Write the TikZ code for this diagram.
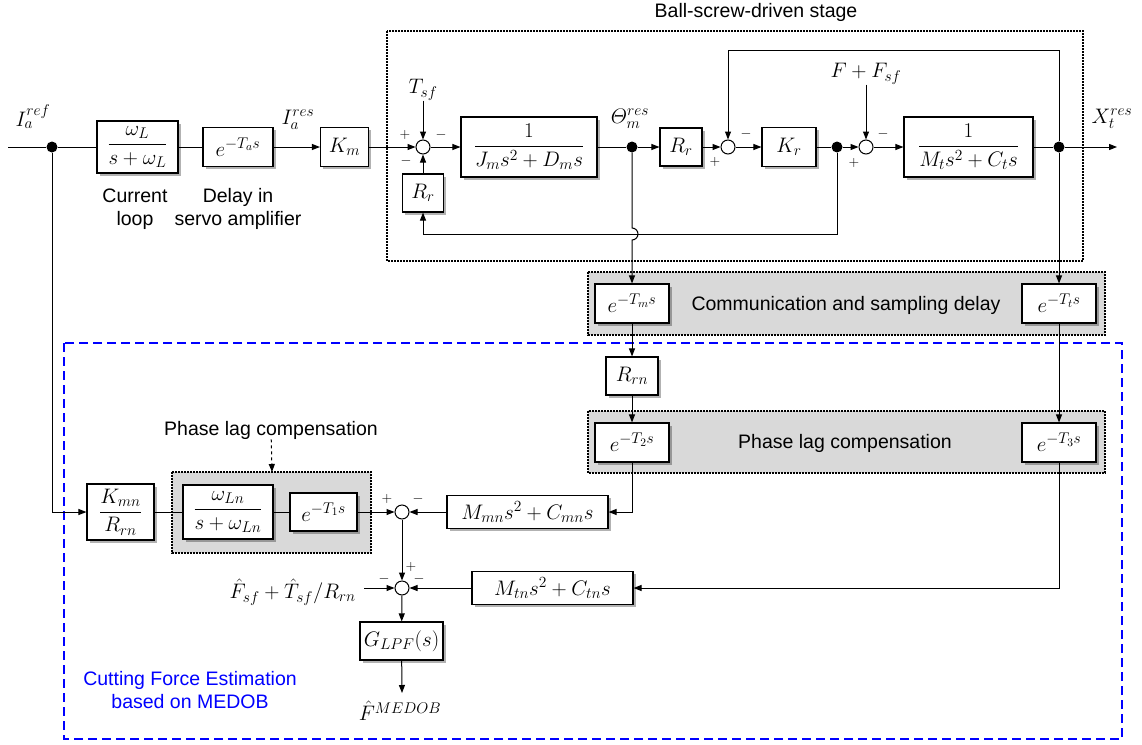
\RequirePackage{fix-cm}
\documentclass[tikz,border=0pt]{standalone}
\usepackage{amsmath}
\usepackage[no-math]{fontspec}
\newfontfamily\labelfont{Liberation Sans}
\usetikzlibrary{arrows.meta,shadows,calc}
\definecolor{panel}{gray}{0.85}
\definecolor{mblue}{RGB}{0,0,255}
\DeclareMathSizes{21}{21}{15.5}{11.5}

\begin{document}
\begin{tikzpicture}[x=1pt,y=-1pt,
  mathtxt/.style={font=\fontsize{21}{25}\selectfont, inner sep=0pt},
  txt/.style={font=\labelfont\fontsize{19.5}{23}\selectfont, inner sep=0pt, align=center},
  blk/.style={draw, line width=1.1pt, fill=white, inner sep=0pt,
    font=\fontsize{21}{25}\selectfont,
    drop shadow={shadow xshift=2.5pt, shadow yshift=-2.5pt, opacity=0.3, fill=black}},
  sumc/.style={circle, draw, line width=1pt, fill=white, minimum size=14pt, inner sep=0pt},
  junc/.style={circle, fill=black, minimum size=11pt, inner sep=0pt},
  sig/.style={font=\fontsize{14}{14}\selectfont, inner sep=0pt},
  conn/.style={line width=1pt},
  arr/.style={line width=1pt, -{Triangle[length=8pt,width=6pt]}},
  dotbox/.style={line width=1.6pt, dash pattern=on 1.6pt off 1.4pt},
  bluebox/.style={draw=mblue, line width=2pt, dash pattern=on 9pt off 5pt},
]
\useasboundingbox (0,0) rectangle (1142,744);

% ---------- frames ----------
\draw[dotbox] (387,31) rectangle (1083,261);
\node[txt] (stage) at (756,12) {Ball-screw-driven stage};

\draw[dotbox, fill=panel] (588,272) rectangle (1105,335);
\node[txt] (commtxt) at (846,305) {Communication and sampling delay};

\draw[bluebox] (64,343) rectangle (1122,739);

\draw[dotbox, fill=panel] (588,411) rectangle (1105,473);
\node[txt] (lagtxt) at (845,443) {Phase lag compensation};

\draw[dotbox, fill=panel] (172,472) rectangle (371,553);
\coordinate (lagtop) at (272,472);
\node[txt] (lagtxt2) at (271,430) {Phase lag compensation};

\node[txt, text=mblue] (medob) at (190,690) {Cutting Force Estimation\\based on MEDOB};

% ---------- top row: current loop and ball-screw stage ----------
\coordinate (iin) at (8,147);
\node[junc] (d0) at (52,147) {};
\node[mathtxt] (iref) at (33,117) {$I_a^{ref}$};
\node[blk, minimum width=81pt, minimum height=52pt] (cl) at (137.5,147) {$\dfrac{\omega_L}{s+\omega_L}$};
\node[blk, minimum width=70pt, minimum height=39pt] (da) at (238,147) {$e^{-T_a s}$};
\node[mathtxt] (ires) at (298,120) {$I_a^{res}$};
\node[blk, minimum width=48pt, minimum height=39pt] (Km) at (344.5,147) {$K_m$};
\node[txt] (cltxt) at (135,209) {Current\\loop};
\node[txt] (datxt) at (238,209) {Delay in\\servo amplifier};

\node[sumc] (s1) at (423,147) {};
\node[mathtxt] (tsf) at (423,90) {$T_{sf}$};
\node[blk, minimum width=136pt, minimum height=60pt] (Jm) at (529,147) {$\dfrac{1}{J_m s^2+D_m s}$};
\node[blk, minimum width=41pt, minimum height=38pt] (Rr1) at (423,193) {$R_r$};
\node[junc] (d1) at (632,147) {};
\node[mathtxt] (thres) at (630,119) {$\varTheta_m^{res}$};
\node[blk, minimum width=42pt, minimum height=38pt] (Rr2) at (681,147) {$R_r$};
\node[sumc] (s2) at (728,147) {};
\node[blk, minimum width=54pt, minimum height=39pt] (Kr) at (789,147) {$K_r$};
\node[junc] (d2) at (837,147) {};
\node[sumc] (s3) at (866,147) {};
\node[mathtxt] (ff) at (866,74) {$F+F_{sf}$};
\node[blk, minimum width=129pt, minimum height=60pt] (Mt) at (968.5,147) {$\dfrac{1}{M_t s^2+C_t s}$};
\node[junc] (d3) at (1059,147) {};
\coordinate (xout) at (1117,147);
\node[mathtxt] (xres) at (1112,119) {$X_t^{res}$};

% signs
\node[sig] (s1a) at (405,135) {$+$};
\node[sig] (s1b) at (441,135) {$-$};
\node[sig] (s1c) at (406,161) {$-$};
\node[sig] (s2a) at (746,134) {$-$};
\node[sig] (s2b) at (715,162) {$+$};
\node[sig] (s3a) at (883,134) {$-$};
\node[sig] (s3b) at (854,163) {$+$};

% ---------- delay blocks ----------
\node[blk, minimum width=74pt, minimum height=39pt] (Tm) at (632,303.5) {$e^{-T_m s}$};
\node[blk, minimum width=74pt, minimum height=39pt] (Tt) at (1059,303.5) {$e^{-T_t s}$};
\node[blk, minimum width=52pt, minimum height=38pt] (Rrn) at (632,376) {$R_{rn}$};
\node[blk, minimum width=74pt, minimum height=39pt] (T2) at (632,442.5) {$e^{-T_2 s}$};
\node[blk, minimum width=74pt, minimum height=39pt] (T3) at (1059,442.5) {$e^{-T_3 s}$};

% ---------- estimator ----------
\node[blk, minimum width=67pt, minimum height=56pt] (Kmn) at (120.5,512) {$\dfrac{K_{mn}}{R_{rn}}$};
\node[blk, minimum width=90pt, minimum height=54pt] (wLn) at (228,512) {$\dfrac{\omega_{Ln}}{s+\omega_{Ln}}$};
\node[blk, minimum width=67pt, minimum height=38pt] (T1) at (323.5,512) {$e^{-T_1 s}$};
\node[sumc] (s4) at (402,512) {};
\node[blk, minimum width=161pt, minimum height=33pt] (Mmn) at (527.5,512) {$M_{mn}s^2+C_{mn}s$};
\node[sumc] (s5) at (402,588) {};
\node[blk, minimum width=161pt, minimum height=33pt] (Mtn) at (552.5,588) {$M_{tn}s^2+C_{tn}s$};
\coordinate (fin) at (364,588);
\node[mathtxt, anchor=east] (fhat) at (356,592) {$\hat{F}_{sf}+\hat{T}_{sf}/R_{rn}$};
\node[blk, minimum width=83pt, minimum height=38pt] (Glpf) at (401.5,641) {$G_{LPF}(s)$};
\coordinate (fout) at (402,693);
\node[mathtxt] (fmed) at (400,711) {$\hat{F}^{MEDOB}$};

\node[sig] (s4a) at (387,499) {$+$};
\node[sig] (s4b) at (418,499) {$-$};
\node[sig] (s5a) at (411,567) {$+$};
\node[sig] (s5b) at (384,579) {$-$};
\node[sig] (s5c) at (419,579) {$-$};

% ---------- connectors: top row ----------
\draw[conn] (iin) -- (d0);
\draw[conn] (d0) -- (cl);
\draw[conn] (cl) -- (da);
\draw[arr] (da) -- (Km);
\draw[arr] (Km) -- (s1);
\draw[arr] (tsf) -- (s1);
\draw[arr] (s1) -- (Jm);
\draw[conn] (Jm) -- (d1);
\draw[arr] (d1) -- (Rr2);
\draw[arr] (Rr2) -- (s2);
\draw[arr] (s2) -- (Kr);
\draw[conn] (Kr) -- (d2);
\draw[arr] (d2) -- (s3);
\draw[arr] (ff) -- (s3);
\draw[arr] (s3) -- (Mt);
\draw[conn] (Mt) -- (d3);
\draw[arr] (d3) -- (xout);

% position feedback from the table to the screw
\coordinate (tpR) at (1059,50);
\coordinate (tpL) at (728,50);
\draw[arr] (d3) -- (tpR) -- (tpL) -- (s2);

% reaction torque feedback
\coordinate (fbR) at (837,234);
\coordinate (fbL) at (423,234);
\draw[arr] (d2) -- (fbR) -- (fbL) -- (Rr1);
\draw[arr] (Rr1) -- (s1);

% measured signals, motor side hops over the torque feedback
\coordinate (hopT) at (632,228);
\draw[arr] (d1) -- (hopT) arc[start angle=90, end angle=-90, radius=6pt] -- (Tm);
\draw[arr] (d3) -- (Tt);

% ---------- connectors: estimator ----------
\draw[arr] (Tm) -- (Rrn);
\draw[arr] (Rrn) -- (T2);
\draw[arr] (Tt) -- (T3);
\draw[arr] (T2) |- (Mmn);
\draw[arr] (Mmn) -- (s4);
\draw[arr] (d0) |- (Kmn);
\draw[conn] (Kmn) -- (wLn);
\draw[conn] (wLn) -- (T1);
\draw[arr] (T1) -- (s4);
\draw[arr] (s4) -- (s5);
\draw[arr] (T3) |- (Mtn);
\draw[arr] (Mtn) -- (s5);
\draw[arr] (fin) -- (s5);
\draw[arr] (s5) -- (Glpf);
\draw[arr] (Glpf) -- (fout);
\draw[arr, dashed] (lagtxt2) -- (lagtop);
\end{tikzpicture}
\end{document}
